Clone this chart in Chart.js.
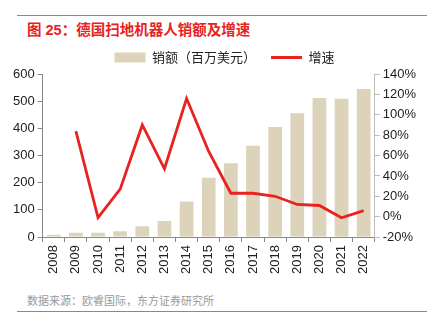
<!DOCTYPE html>
<html>
<head>
<meta charset="utf-8">
<script src="https://cdn.jsdelivr.net/npm/chart.js@4"></script>
<style>
  body { margin: 0; width: 427px; height: 324px; background: #fff; position: relative; overflow: hidden; font-family: "Liberation Sans", "Noto Sans CJK SC", sans-serif; }
  .topline { position: absolute; left: 17px; right: 0; top: 15px; height: 1px; background: #e8625a; }
  .title { position: absolute; left: 27px; top: 18px; font-size: 14.5px; font-weight: bold; color: #e8221e; font-family: "Liberation Sans", "Noto Sans CJK SC", sans-serif; }
  .source { position: absolute; left: 27px; top: 292px; font-size: 11px; color: #999; font-family: "Noto Sans CJK SC", sans-serif; }
  .botline { position: absolute; left: 17px; right: 0; top: 311px; height: 1px; background: #e8625a; }
  .wrap { position: absolute; left: 0; top: 36px; width: 427px; height: 241px; }
</style>
</head>
<body>
<div class="topline"></div>
<div class="title">图 25：德国扫地机器人销额及增速</div>
<div class="wrap"><canvas id="myChart"></canvas></div>
<div class="source">数据来源：欧睿国际，东方证券研究所</div>
<div class="botline"></div>
<script>
const years = ["2008", "2009", "2010", "2011", "2012", "2013", "2014", "2015", "2016", "2017", "2018", "2019", "2020", "2021", "2022"];
const sales = [9, 16, 16, 21, 40, 59, 131, 218, 272, 336, 405, 456, 512, 509, 545];
const growth = [null, 84, -1, 27, 90, 47, 116, 64, 23, 23, 20, 12, 11, -1, 6];
const leftTicks = [0, 100, 200, 300, 400, 500, 600];

const myChartRef = document.getElementById("myChart").getContext("2d");

new Chart(myChartRef, {
    type: "bar",
    data: {
        labels: years,
        datasets: [
            {
                label: "销额（百万美元）",
                data: sales,
                backgroundColor: "#ddd3bb",
                yAxisID: "y",
                barPercentage: 0.62,
                categoryPercentage: 1,
                pointStyle: "rect",
                order: 2
            },
            {
                type: "line",
                label: "增速",
                data: growth,
                borderColor: "#e8221e",
                backgroundColor: "#e8221e",
                borderWidth: 2.8,
                pointRadius: 0,
                pointStyle: "line",
                tension: 0,
                yAxisID: "y1",
                order: 1
            }
        ]
    },
    options: {
        responsive: true,
        maintainAspectRatio: false,
        animation: false,
        layout: { padding: { left: 10, right: 8, top: 0, bottom: 0 } },
        plugins: {
            legend: {
                position: "top",
                labels: {
                    color: "#222",
                    font: { size: 13, family: "'Noto Sans CJK SC', sans-serif" },
                    usePointStyle: true,
                    pointStyleWidth: 31,
                    boxHeight: 10,
                    padding: 15,
                    sort: (a, b) => a.datasetIndex - b.datasetIndex,
                    generateLabels(chart) {
                        const items = Chart.defaults.plugins.legend.labels.generateLabels(chart);
                        items.forEach(it => {
                            if (it.datasetIndex === 0) { it.lineWidth = 0; }
                            else { it.lineWidth = 3; it.strokeStyle = "#e8221e"; }
                        });
                        return items;
                    }
                }
            },
            tooltip: { enabled: false }
        },
        scales: {
            x: {
                grid: { display: true, drawOnChartArea: false, offset: true, color: "#888", tickLength: 5 },
                border: { color: "#888" },
                ticks: { color: "#222", font: { size: 13, family: "'Liberation Sans', sans-serif" }, maxRotation: 90, minRotation: 90, autoSkip: false }
            },
            y: {
                position: "left",
                min: 0,
                max: 600,
                afterBuildTicks(axis) { axis.ticks = leftTicks.map(v => ({ value: v })); },
                grid: { drawOnChartArea: false, color: "#888", tickLength: 5 },
                border: { color: "#888" },
                ticks: { color: "#222", font: { size: 13, family: "'Liberation Sans', sans-serif" } }
            },
            y1: {
                position: "right",
                min: -20,
                max: 140,
                grid: { drawOnChartArea: false, color: "#bbb", tickLength: 5 },
                border: { color: "#bbb" },
                ticks: { stepSize: 20, color: "#222", font: { size: 13, family: "'Liberation Sans', sans-serif" }, callback: v => v + "%" }
            }
        }
    },
    plugins: [{
        // nudge the legend a bit right, like the original
        id: "legendShift",
        afterLayout(chart) {
            chart.legend.left += 20;
            if (chart.legend.adjustHitBoxes) chart.legend.adjustHitBoxes();
        }
    }]
});
</script>
</body>
</html>
